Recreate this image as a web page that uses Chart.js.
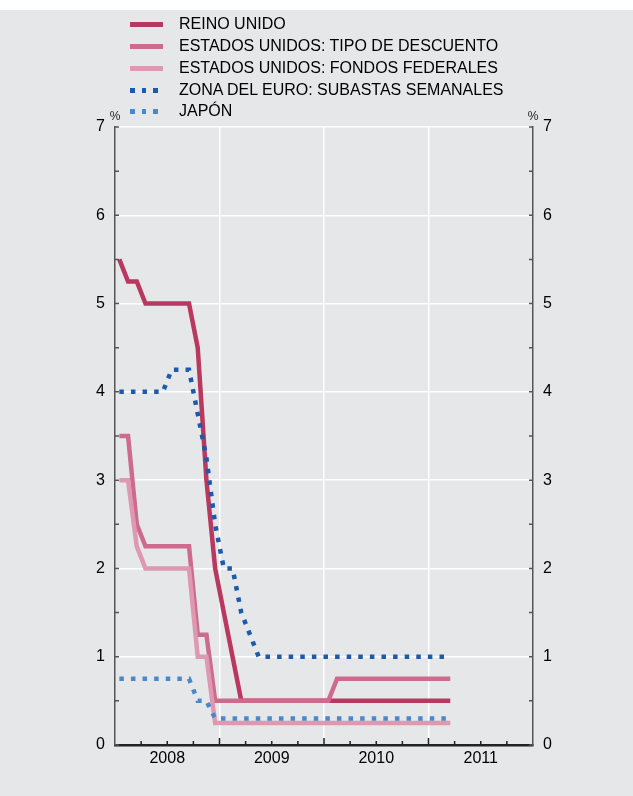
<!DOCTYPE html>
<html>
<head>
<meta charset="utf-8">
<script src="https://cdn.jsdelivr.net/npm/chart.js@4.4.0/dist/chart.umd.min.js"></script>
<style>
body { margin: 0; background: #fff; }
#wrap { position: absolute; left: 0; top: 10px; width: 633px; height: 786px; background: #e6e7e9; }
#chart { position: absolute; left: 0; top: 0; }
#legend { position: absolute; left: 0; top: 0; font-family: "Liberation Sans", Arial, sans-serif; font-size: 16px; color: #000; }
.sw { position: absolute; left: 130px; width: 33px; height: 5px; }
.txt { position: absolute; left: 179px; line-height: 18px; white-space: nowrap; }
</style>
</head>
<body>
<div id="wrap"></div>
<canvas id="chart" width="633" height="796"></canvas>
<div id="legend"></div>
<script>
"use strict";

// monthly, Jan 2008 .. Mar 2011 (end of month values)
const months = ['2008-01','2008-02','2008-03','2008-04','2008-05','2008-06','2008-07','2008-08','2008-09','2008-10','2008-11','2008-12',
  '2009-01','2009-02','2009-03','2009-04','2009-05','2009-06','2009-07','2009-08','2009-09','2009-10','2009-11','2009-12',
  '2010-01','2010-02','2010-03','2010-04','2010-05','2010-06','2010-07','2010-08','2010-09','2010-10','2010-11','2010-12',
  '2011-01','2011-02','2011-03'];
const years = ['2008','2009','2010','2011'];

const reinoUnido = [5.5,5.25,5.25,5,5,5,5,5,5,4.5,3,2,
  1.5,1,0.5,0.5,0.5,0.5,0.5,0.5,0.5,0.5,0.5,0.5,
  0.5,0.5,0.5,0.5,0.5,0.5,0.5,0.5,0.5,0.5,0.5,0.5,
  0.5,0.5,0.5];
const eeuuDescuento = [3.5,3.5,2.5,2.25,2.25,2.25,2.25,2.25,2.25,1.25,1.25,0.5,
  0.5,0.5,0.5,0.5,0.5,0.5,0.5,0.5,0.5,0.5,0.5,0.5,
  0.5,0.75,0.75,0.75,0.75,0.75,0.75,0.75,0.75,0.75,0.75,0.75,
  0.75,0.75,0.75];
const eeuuFondos = [3,3,2.25,2,2,2,2,2,2,1,1,0.25,
  0.25,0.25,0.25,0.25,0.25,0.25,0.25,0.25,0.25,0.25,0.25,0.25,
  0.25,0.25,0.25,0.25,0.25,0.25,0.25,0.25,0.25,0.25,0.25,0.25,
  0.25,0.25,0.25];
const zonaEuro = [4,4,4,4,4,4,4.25,4.25,4.25,3.75,3.25,2.5,
  2,2,1.5,1.25,1,1,1,1,1,1,1,1,
  1,1,1,1,1,1,1,1,1,1,1,1,
  1,1,1];
const japon = [0.75,0.75,0.75,0.75,0.75,0.75,0.75,0.75,0.75,0.5,0.5,0.3,
  0.3,0.3,0.3,0.3,0.3,0.3,0.3,0.3,0.3,0.3,0.3,0.3,
  0.3,0.3,0.3,0.3,0.3,0.3,0.3,0.3,0.3,0.3,0.3,0.3,
  0.3,0.3,0.3];

const font = '"Liberation Sans", Arial, sans-serif';

// month index -> middle of the month on a 0..48 month axis
function toPoints(values) {
  return values.map((v, i) => ({ x: i + 0.5, y: v, month: months[i] }));
}

const series = [
  { label: 'REINO UNIDO', data: reinoUnido, color: '#b8385f', dash: [], order: 5 },
  { label: 'ESTADOS UNIDOS: TIPO DE DESCUENTO', data: eeuuDescuento, color: '#cd6b8c', dash: [], order: 4 },
  { label: 'ESTADOS UNIDOS: FONDOS FEDERALES', data: eeuuFondos, color: '#de98b0', dash: [], order: 3 },
  { label: 'ZONA DEL EURO: SUBASTAS SEMANALES', data: zonaEuro, color: '#1c5aab', dash: [4.5, 7.1], order: 2 },
  { label: 'JAPÓN', data: japon, color: '#4b87c9', dash: [4.5, 7.1], order: 1 }
];

const datasets = series.map(s => ({
  label: s.label,
  data: toPoints(s.data),
  borderColor: s.color,
  borderWidth: 4.5,
  borderDash: s.dash,
  borderCapStyle: 'butt',
  borderJoinStyle: 'miter',
  pointRadius: 0,
  tension: 0,
  fill: false,
  order: s.order
}));

// legend as html
const legendRows = [24, 46, 68, 90, 111];
const legend = document.getElementById('legend');
series.forEach((s, i) => {
  const sw = document.createElement('div');
  sw.className = 'sw';
  sw.style.top = (legendRows[i] - 2.5) + 'px';
  if (s.dash.length) {
    sw.style.background = 'repeating-linear-gradient(to right,' + s.color + ' 0 4.5px, transparent 4.5px 11.6px)';
    sw.style.width = '28px';
  } else {
    sw.style.background = s.color;
  }
  const t = document.createElement('div');
  t.className = 'txt';
  t.style.top = (legendRows[i] - 9) + 'px';
  t.textContent = s.label;
  legend.appendChild(sw);
  legend.appendChild(t);
});

const insideTicks = {
  id: 'insideTicks',
  afterDraw(chart) {
    const { ctx, chartArea: a, scales: { x, y } } = chart;
    ctx.save();
    ctx.strokeStyle = '#555';
    ctx.lineWidth = 1.5;
    ctx.beginPath();
    for (let v = 0; v <= 7; v += 0.5) {
      const py = y.getPixelForValue(v);
      ctx.moveTo(a.left, py); ctx.lineTo(a.left + 4, py);
      ctx.moveTo(a.right, py); ctx.lineTo(a.right - 4, py);
    }
    ctx.stroke();
    ctx.strokeStyle = '#222';
    ctx.beginPath();
    for (let m = 3; m < 48; m += 3) {
      const px = x.getPixelForValue(m);
      const len = m % 12 === 0 ? 7 : 4;
      ctx.moveTo(px, a.bottom); ctx.lineTo(px, a.bottom - len);
    }
    ctx.stroke();
    ctx.fillStyle = '#222';
    ctx.font = '12px ' + font;
    ctx.textAlign = 'center';
    ctx.fillText('%', a.left, a.top - 7);
    ctx.fillText('%', a.right, a.top - 7);
    ctx.restore();
  }
};

new Chart(document.getElementById('chart'), {
  type: 'line',
  data: { datasets: datasets },
  options: {
    responsive: false,
    animation: false,
    devicePixelRatio: 1,
    layout: { padding: { top: 127, left: 0, right: 0, bottom: 0 } },
    plugins: { legend: { display: false }, tooltip: { enabled: false } },
    scales: {
      x: {
        type: 'linear',
        min: 0,
        max: 48,
        afterBuildTicks: scale => { scale.ticks = [0, 6, 12, 18, 24, 30, 36, 42, 48].map(v => ({ value: v })); },
        afterFit: scale => { scale.height = 51; },
        ticks: {
          autoSkip: false,
          maxRotation: 0,
          minRotation: 0,
          padding: 4,
          color: '#000',
          font: { family: font, size: 16 },
          callback: v => (v % 12 === 6 ? years[(v - 6) / 12] : '')
        },
        grid: {
          drawTicks: false,
          lineWidth: 1.5,
          color: c => (c.tick && c.tick.value % 12 === 0 && c.tick.value > 0 && c.tick.value < 48 ? '#ffffff' : 'rgba(0,0,0,0)')
        },
        border: { color: '#222', width: 2.5 }
      },
      y: {
        position: 'left',
        min: 0,
        max: 7,
        afterFit: scale => { scale.width = 115; },
        ticks: { stepSize: 1, padding: 10, color: '#000', font: { family: font, size: 16 } },
        grid: {
          drawTicks: false,
          lineWidth: 1.5,
          color: c => (c.tick && c.tick.value > 0 ? '#ffffff' : 'rgba(0,0,0,0)')
        },
        border: { color: '#555', width: 1.5 }
      },
      y2: {
        position: 'right',
        min: 0,
        max: 7,
        afterFit: scale => { scale.width = 100; },
        ticks: { stepSize: 1, padding: 10, color: '#000', font: { family: font, size: 16 } },
        grid: { drawOnChartArea: false, drawTicks: false },
        border: { color: '#555', width: 1.5 }
      }
    }
  },
  plugins: [insideTicks]
});
</script>
</body>
</html>
